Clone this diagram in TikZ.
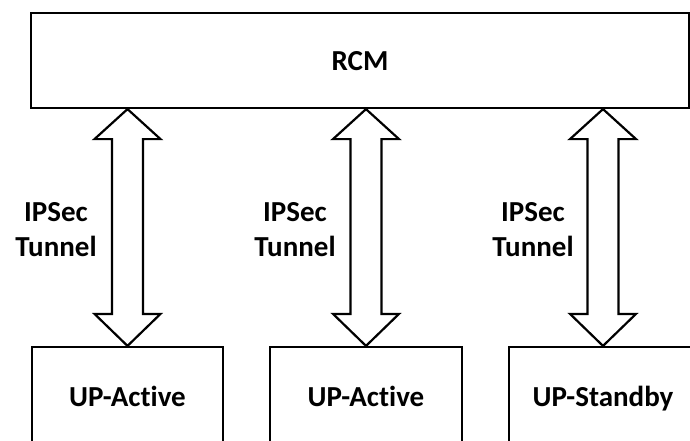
\documentclass[tikz,border=0pt]{standalone}
\usepackage{fontspec}
\setmainfont[Ligatures=NoCommon]{Carlito}
\usetikzlibrary{calc}
\tikzset{
  box/.style={draw=black, line width=2.2pt, fill=white, inner sep=0pt,
    text height=19pt, text depth=0pt,
    font=\bfseries\fontsize{29}{34}\selectfont},
  lbl/.style={align=center, inner sep=0pt,
    font=\bfseries\fontsize{29}{35}\selectfont},
  tun/.style={draw=black, line width=2.2pt, fill=white, line join=miter}
}
\newcommand\tunneldraw[2]{%
  \draw[tun] (#1) -- ([shift={(33,30)}]#1) -- ([shift={(15.5,30)}]#1)
    -- ([shift={(15.5,-32)}]#2) -- ([shift={(33,-32)}]#2) -- (#2)
    -- ([shift={(-33,-32)}]#2) -- ([shift={(-15.5,-32)}]#2)
    -- ([shift={(-15.5,30)}]#1) -- ([shift={(-33,30)}]#1) -- cycle;}
\begin{document}
\begin{tikzpicture}[x=1pt, y=-1pt]
\useasboundingbox[fill=white] (0,0) rectangle (690,440);
\node[box, minimum width=658pt, minimum height=95pt] (rcm) at (360,60.5) {RCM};
\node[box, minimum width=191pt, minimum height=100pt] (up1) at (127.5,397) {UP-Active};
\node[box, minimum width=192pt, minimum height=100pt] (up2) at (366,397) {UP-Active};
\node[box, minimum width=188pt, minimum height=100pt] (up3) at (603,397) {UP-Standby};
\coordinate (t1) at (rcm.south -| up1.north);
\coordinate (t2) at (rcm.south -| up2.north);
\coordinate (t3) at (rcm.south -| up3.north);
\tunneldraw{t1}{up1.north}
\tunneldraw{t2}{up2.north}
\tunneldraw{t3}{up3.north}
\node[lbl] (l1) at (56,229.5) {IPSec\\Tunnel};
\node[lbl] (l2) at (295,229.5) {IPSec\\Tunnel};
\node[lbl] (l3) at (533,229.5) {IPSec\\Tunnel};
\end{tikzpicture}
\end{document}
